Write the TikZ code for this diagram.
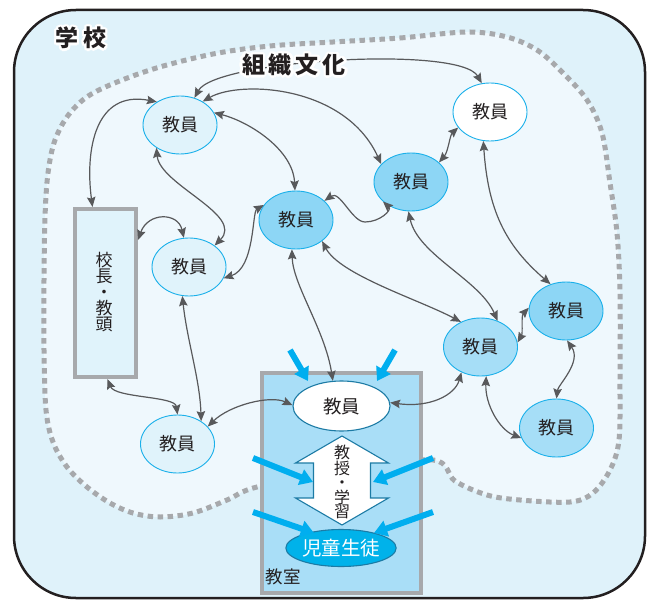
\documentclass[tikz,border=0pt]{standalone}
\usepackage{fontspec}
\setmainfont{Noto Sans CJK JP}
\usetikzlibrary{shapes.geometric,arrows.meta,calc}

\definecolor{outerbg}{HTML}{DFF2FA}
\definecolor{innerbg}{HTML}{EFF8FD}
\definecolor{dotgray}{HTML}{A7A9AC}
\definecolor{cyanb}{HTML}{1AB0EA}
\definecolor{lightfill}{HTML}{E0F3FB}
\definecolor{midfill}{HTML}{8DD6F5}
\definecolor{palefill}{HTML}{A6DEF7}
\definecolor{roomfill}{HTML}{A9DEF7}
\definecolor{tealb}{HTML}{1C7BA5}
\definecolor{kids}{HTML}{00B2EA}
\definecolor{connc}{HTML}{58595B}
\definecolor{txt}{HTML}{231F20}
\definecolor{bluearrow}{HTML}{00AEEF}

% white halo: white copies of the text around the dark text
\newcommand{\halolabel}[4]{%
  \foreach \a in {0,22.5,...,337.5}{\node[font=#3,text=white,inner sep=0pt] at ($(#2)+(\a:2.4pt)$) {#4};}
  \node[font=#3,text=txt,inner sep=0pt] (#1) at (#2) {#4};
}

\begin{document}
\begin{tikzpicture}[x=1pt,y=-1pt,
  >={Stealth[length=10pt,width=8.5pt,inset=1.5pt]},
  teacher/.style={ellipse, draw=cyanb, line width=0.9pt, minimum width=74pt, minimum height=58pt,
    inner sep=0pt, font=\fontsize{18}{20}\selectfont, text=txt},
  conn/.style={draw=connc, line width=1.2pt, <->},
  barrow/.style={draw=bluearrow, line width=6pt, -{Triangle[length=13pt,width=16pt]}},
  graybox/.style={draw=dotgray, line width=4.5pt, inner sep=0pt},
  classnode/.style={ellipse, draw=tealb, line width=1.1pt, inner sep=0pt}]

\useasboundingbox (0,0) rectangle (652,601);

% school
\draw[fill=outerbg, draw=txt, line width=2.5pt, rounded corners=62pt] (14,10) rectangle (645,598);

% organisational culture region
\draw[fill=innerbg, draw=dotgray, line width=5pt, dash pattern=on 5.5pt off 4.5pt]
  plot[smooth cycle, tension=0.55] coordinates {
  (333,42) (400,38) (467,32) (507,37) (537,50) (562,72) (587,100) (602,133) (610,183) (617,233)
  (620,293) (620,380) (619,440) (610,470) (593,493) (570,502) (520,500) (487,495) (455,481) (433,460)
  (345,470) (257,487) (227,500) (193,513) (160,517) (133,513) (110,503) (87,487) (67,467) (53,442)
  (46,410) (44,350) (44,280) (45,217) (48,173) (55,140) (70,113) (95,92) (150,70) (213,54) (270,46)};

% classroom
\node[graybox, fill=roomfill, minimum width=159pt, minimum height=220pt] (R) at (341.5,483) {};

% principal box
\node[graybox, line width=4pt, fill=lightfill, minimum width=61pt, minimum height=168pt] (P) at (105.5,293) {};
\node[font=\fontsize{17}{16}\selectfont, text=txt, align=center, inner sep=0pt] (Ptext) at (104,292)
  {校\\長\\・\\教\\頭};

% teachers
\node[teacher, fill=lightfill] (A) at (180,125) {教員};
\node[teacher, fill=white] (B) at (490,112) {教員};
\node[teacher, fill=midfill] (C) at (411,182) {教員};
\node[teacher, fill=midfill] (D) at (296,220) {教員};
\node[teacher, fill=lightfill] (E) at (189,267) {教員};
\node[teacher, fill=lightfill] (F) at (177.5,444) {教員};
\node[teacher, fill=palefill] (G) at (480.5,347) {教員};
\node[teacher, fill=midfill] (H) at (566,311) {教員};
\node[teacher, fill=palefill] (I) at (556.5,428) {教員};

% classroom contents
\node[classnode, fill=white, minimum width=97pt, minimum height=50pt, font=\fontsize{18.5}{20}\selectfont, text=txt] (T) at (341.5,406) {教員};
\draw[tealb, fill=white, line width=1.1pt] (342,436) -- (388.5,463) -- (370.5,463) -- (370.5,498) -- (388.5,498)
  -- (342,525) -- (295.5,498) -- (313.5,498) -- (313.5,463) -- (295.5,463) -- cycle;
\node[font=\fontsize{16}{14.5}\selectfont, text=txt, align=center, inner sep=0pt] (L) at (342,482)
  {教\\授\\・\\学\\習};
\node[classnode, fill=kids, minimum width=96pt, minimum height=37pt, font=\fontsize{19.5}{21}\selectfont, text=white] (S) at (341,548) {児童生徒};
\node[font=\fontsize{17.5}{19}\selectfont, text=txt, inner sep=0pt] (room) at (283,577) {教室};

% connectors
\draw[conn] (A.62) .. controls (215,60) and (460,45) .. (B.106);
\draw[conn] (A.46) .. controls (240,80) and (345,85) .. (C.149);
\draw[conn] (A.20) .. controls (250,122) and (293,150) .. (D.92);
\draw[conn] (A.224) .. controls (160,185) and (245,215) .. (E.40);
\draw[conn] (A.135) .. controls (95,90) and (85,150) .. ([xshift=-13pt]P.north);
\draw[conn] (P.east |- 0,240) .. controls (148,212) and (178,212) .. (E.100);
\draw[conn] (E.-18) .. controls (255,268) and (252,212) .. (D.155);
\draw[conn] (D.34) .. controls (340,190) and (352,222) .. (365,222) .. controls (380,222) and (392,210) .. (C.215);
\draw[conn] (B.206) .. controls (450,135) and (448,152) .. (C.35);
\draw[conn] (B.257) .. controls (488,210) and (505,245) .. (H.120);
\draw[conn] (C.265) .. controls (418,255) and (480,280) .. (G.57);
\draw[conn] (D.-39) .. controls (340,275) and (420,300) .. (G.128);
\draw[conn] (D.262) .. controls (293,285) and (325,330) .. (T.109);
\draw[conn] (G.233) .. controls (455,395) and (430,408) .. (T.4);
\draw[conn] (G.7) .. controls (523,333) and (521,316) .. (H.175);
\draw[conn] (G.281) .. controls (485,405) and (500,430) .. (I.196);
\draw[conn] (H.272) .. controls (582,362) and (558,385) .. (I.90);
\draw[conn] (E.257) .. controls (187,340) and (200,380) .. (F.44);
\draw[conn] ([xshift=2pt]P.south) .. controls (115,398) and (175,396) .. (F.90);
\draw[conn] (F.30) .. controls (230,405) and (270,395) .. (T.179);

% blue influence arrows
\coordinate (b1s) at (290,350); \coordinate (b1e) at (308,381);
\coordinate (b2s) at (395,350); \coordinate (b2e) at (377,381);
\coordinate (b3s) at (253,458); \coordinate (b3e) at (313,482);
\coordinate (b4s) at (433,458); \coordinate (b4e) at (373,482);
\coordinate (b5s) at (253,512); \coordinate (b5e) at (314,533);
\coordinate (b6s) at (433,512); \coordinate (b6e) at (374,533);
\draw[barrow] (b1s) -- (b1e);
\draw[barrow] (b2s) -- (b2e);
\draw[barrow] (b3s) -- (b3e);
\draw[barrow] (b4s) -- (b4e);
\draw[barrow] (b5s) -- (b5e);
\draw[barrow] (b6s) -- (b6e);

% labels with halo
\halolabel{school}{81,38}{\bfseries\fontsize{23}{25}\selectfont}{学\hspace{5pt}校}
\halolabel{culture}{294,65}{\bfseries\fontsize{23}{25}\selectfont}{組\hspace{4pt}織\hspace{4pt}文\hspace{4pt}化}
\end{tikzpicture}
\end{document}
